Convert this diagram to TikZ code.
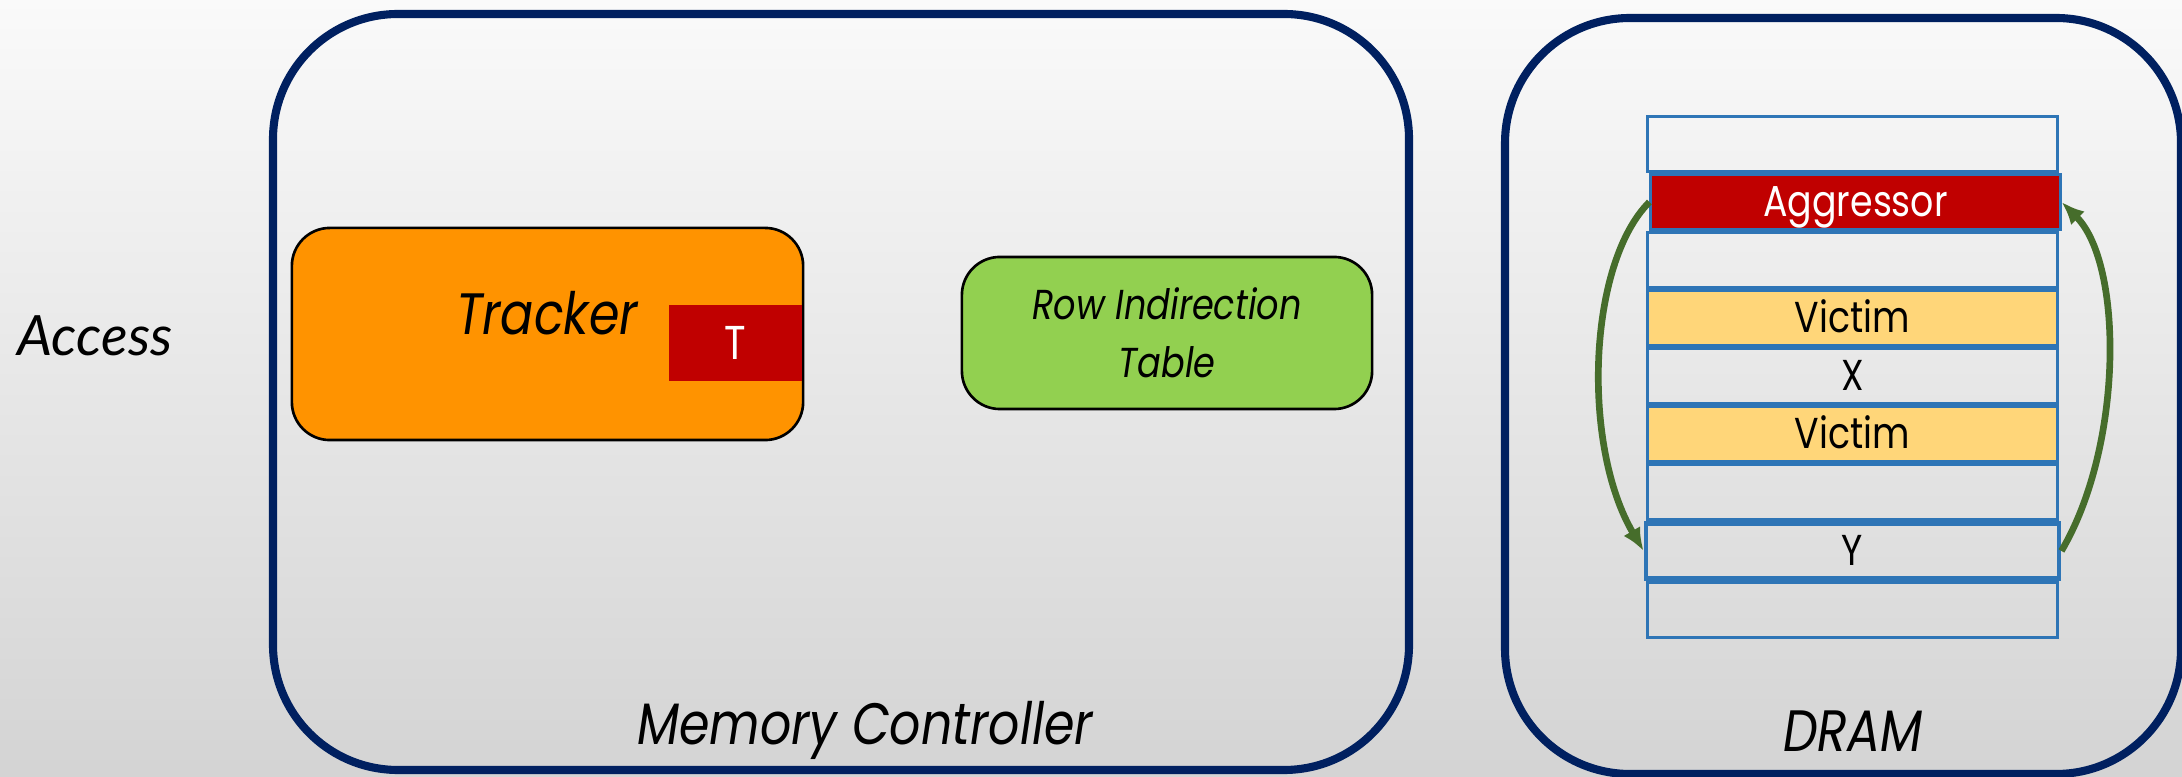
\documentclass[tikz,border=0pt]{standalone}
\usepackage{fontspec}
\usepackage{xcolor}
\usepackage{tikz}
\usetikzlibrary{positioning,arrows.meta}
\setmainfont[FakeStretch=0.84]{Poppins}
\newfontfamily\accessfont{Lato}

\definecolor{navy}{HTML}{002060}
\definecolor{rowblue}{HTML}{2E75B6}
\definecolor{aggred}{HTML}{C00000}
\definecolor{victimyellow}{HTML}{FFD679}
\definecolor{trackorange}{HTML}{FF9300}
\definecolor{ritgreen}{HTML}{92D050}
\definecolor{swapgreen}{HTML}{466D2B}

\tikzset{
  unit/.style={draw=navy, line width=2.3pt, rounded corners=1.25cm},
  block/.style={draw=black, line width=0.75pt, rounded corners=0.38cm, inner sep=0pt},
  title/.style={font=\fontsize{16.6}{18}\selectfont\itshape, anchor=base, inner sep=0pt},
  row/.style={draw=rowblue, line width=0.85pt, minimum width=4.09cm, minimum height=0.55cm,
    inner sep=0pt, text height=8.4pt, text depth=0pt, font=\fontsize{12.3}{14}\selectfont},
  aggrow/.style={row, fill=aggred, text=white},
  victimrow/.style={row, fill=victimyellow},
  swaparrow/.style={draw=swapgreen, line width=1.9pt, -{Latex[length=6.5pt,width=5.5pt]}}
}

\begin{document}
\begin{tikzpicture}[x=0.01cm, y=-0.01cm]
\def\W{2182};
\def\H{777};
\useasboundingbox (0,0) rectangle (\W,\H);
\shade[top color=white!98!black, bottom color=white!83!black] (0,0) rectangle (\W,\H);

% the two units %
\coordinate (mcA) at (273,14);
\coordinate (mcB) at (1409,770);
\coordinate (dramA) at (1505,18);
\coordinate (dramB) at (2181,774);
\draw[unit] (mcA) rectangle (mcB);
\draw[unit] (dramA) rectangle (dramB);
\node[title] (mclabel) at (865,745) {Memory Controller};
\node[title] (dramlabel) at (1853,752) {DRAM};

\node[font=\accessfont\fontsize{15.8}{18}\selectfont\itshape, anchor=base, inner sep=0pt] (access) at (95,356) {Access};

% tracker with its counter %
\node[block, fill=trackorange, minimum width=5.11cm, minimum height=2.12cm] (tracker) at (547.5,334) {};
\node[fill=aggred, text=white, inner sep=0pt, minimum width=1.325cm, minimum height=0.76cm,
  font=\fontsize{13.5}{15}\selectfont] (tcount) at (735.2,343) {T};
\node[title] (trackerlabel) at (547,335) {Tracker};

% indirection table %
\node[block, fill=ritgreen, minimum width=4.1cm, minimum height=1.52cm, align=center,
  font=\fontsize{11.9}{16.5}\selectfont\itshape] (rit) at (1167,333) {Row Indirection\\Table};

% dram rows %
\node[row] (r1) at (1852.5,144) {};
\node[aggrow, below=0pt of r1, xshift=0.03cm] (agg) {Aggressor};
\node[row, below=0pt of agg, xshift=-0.03cm] (r3) {};
\node[victimrow, below=0pt of r3] (vic1) {Victim};
\node[row, below=0pt of vic1] (rowx) {X};
\node[victimrow, below=0pt of rowx] (vic2) {Victim};
\node[row, below=0pt of vic2] (r7) {};
\node[row, below=0pt of r7, line width=1.3pt, minimum width=4.13cm] (rowy) {Y};
\node[row, below=0pt of rowy] (r9) {};

% swap of aggressor and Y %
\draw[swaparrow] (agg.west) .. controls +(-62,62) and +(-62,-105) .. (rowy.west);
\draw[swaparrow] (rowy.east) .. controls +(62,-105) and +(62,62) .. (agg.east);

\end{tikzpicture}
\end{document}
